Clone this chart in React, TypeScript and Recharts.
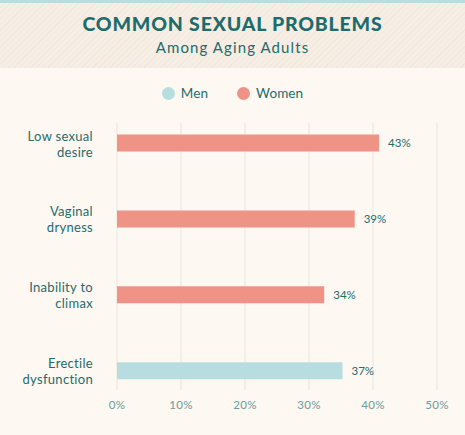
import { Bar, BarChart, CartesianGrid, LabelList, Legend, XAxis, YAxis } from "recharts";

// survey values, one series per sex
const categories = ["Low sexual\ndesire", "Vaginal\ndryness", "Inability to\nclimax", "Erectile\ndysfunction"];
const menValues = [null, null, null, 37];
const womenValues = [43, 39, 34, null];
const xTicks = [0, 10, 20, 30, 40, 50];

const TEAL = "#1d6c6c";
const MEN = "#b8dde0";
const WOMEN = "#ee9386";

const data = categories.map((name, i) => ({ name, men: menValues[i], women: womenValues[i] }));

function CategoryTick({ x, y, payload }: any) {
  const lines = String(payload.value).split("\n");
  return (
    <text x={x} y={y} textAnchor="end" fill={TEAL} fontSize={13} letterSpacing={0.3}>
      {lines.map((line, i) => (
        <tspan key={i} x={x} dy={i === 0 ? -3 : 16}>
          {line}
        </tspan>
      ))}
    </text>
  );
}

function PercentTick({ x, y, payload }: any) {
  return (
    <text x={x} y={y - 30.5} textAnchor="middle" fill="#6a9c9c" fontSize={11.5} letterSpacing={0.3}>
      {payload.value}%
    </text>
  );
}

function LegendContent({ payload }: any) {
  return (
    <div style={{ display: "flex", justifyContent: "center", gap: 29, fontFamily: "Lato", fontSize: 13.5 }}>
      {(payload ?? []).map((p: any) => (
        <div key={p.value} style={{ display: "flex", alignItems: "center", gap: 6, color: TEAL, letterSpacing: 0.1 }}>
          <span style={{ width: 13, height: 13, borderRadius: "50%", background: p.color, display: "inline-block" }} />
          {p.value}
        </div>
      ))}
    </div>
  );
}

const pct = (v: any) => (v == null ? "" : `${v}%`);

export default function App() {
  return (
    <div style={{ position: "absolute", left: 0, top: 0, width: 465, height: 435, background: "#fdf8f2", fontFamily: "Lato" }}>
      <div
        style={{
          position: "absolute",
          left: 0,
          top: 0,
          width: 465,
          height: 68,
          borderTop: `3px solid ${MEN}`,
          boxSizing: "border-box",
          background: "repeating-linear-gradient(135deg, #f6eee4 0px, #f6eee4 3px, #f2e8dc 3px, #f2e8dc 4px)",
          textAlign: "center",
          color: TEAL,
        }}
      >
        <div style={{ fontSize: 19.5, fontWeight: 900, letterSpacing: 0.8, marginTop: 9, lineHeight: "24px" }}>
          COMMON SEXUAL PROBLEMS
        </div>
        <div style={{ fontSize: 15, letterSpacing: 1.1, lineHeight: "20px", marginTop: 1 }}>Among Aging Adults</div>
      </div>
      <div style={{ position: "absolute", left: 0, top: 0 }}>
        <BarChart
          width={465}
          height={435}
          data={data}
          layout="vertical"
          margin={{ top: 105.6, right: 28, bottom: 0, left: 0 }}
          barSize={17}
        >
          <CartesianGrid xAxisId="ticks" horizontal={false} stroke="#ede4d8" y={123} height={267} />
          <XAxis xAxisId="bar" type="number" domain={[0, 52.5]} hide />
          <XAxis
            xAxisId="ticks"
            type="number"
            domain={[0, 50]}
            allowDataOverflow
            ticks={xTicks}
            axisLine={false}
            tickLine={false}
            tickSize={0}
            tickMargin={0}
            height={26}
            tick={<PercentTick />}
          />
          <YAxis
            type="category"
            dataKey="name"
            width={117}
            axisLine={false}
            tickLine={false}
            tickSize={0}
            tickMargin={24}
            tick={<CategoryTick />}
          />
          <Legend
            verticalAlign="middle"
            align="center"
            content={<LegendContent />}
            wrapperStyle={{ top: 85, left: 0, width: 465 }}
          />
          <Bar xAxisId="bar" dataKey="men" name="Men" stackId="a" fill={MEN} isAnimationActive={false}>
            <LabelList dataKey="men" position="right" offset={9} formatter={pct} fill={TEAL} fontSize={11.5} fontFamily="Lato" />
          </Bar>
          <Bar xAxisId="bar" dataKey="women" name="Women" stackId="a" fill={WOMEN} isAnimationActive={false}>
            <LabelList dataKey="women" position="right" offset={9} formatter={pct} fill={TEAL} fontSize={11.5} fontFamily="Lato" />
          </Bar>
        </BarChart>
      </div>
    </div>
  );
}
